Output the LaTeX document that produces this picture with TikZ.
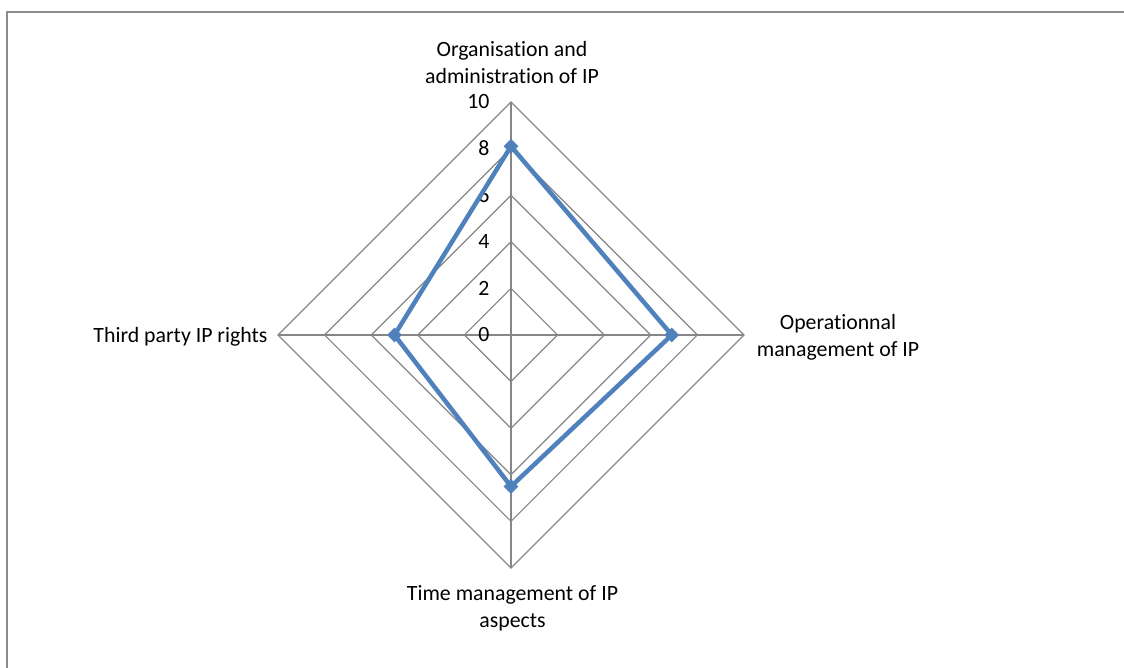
\documentclass[tikz,border=0pt]{standalone}
\usepackage{fontspec}
\setmainfont{Carlito}[Ligatures=NoCommon]
\usetikzlibrary{shapes.geometric}
\definecolor{gridgray}{HTML}{868686}
\definecolor{framegray}{HTML}{8C8C8C}
\definecolor{series}{HTML}{4F81BD}

\begin{document}
\begin{tikzpicture}[x=1pt,y=1pt,
    ring/.style={draw=gridgray,line width=1.2pt},
    seriesline/.style={draw=series,line width=4.5pt,line join=round},
    marker/.style={diamond,fill=series,inner sep=0pt,minimum size=15pt},
    axislabel/.style={align=center,font=\fontsize{21.8}{27}\selectfont},
    ticklabel/.style={anchor=east,font=\fontsize{21.8}{27}\selectfont}]
    \useasboundingbox (-511,-333) rectangle (613,335);
    \draw [framegray,line width=2pt] (-504,323) rectangle (640,-360);
    \foreach \r in {2,4,...,10}
      \draw [ring] (0,23.3*\r) -- (23.3*\r,0) -- (0,-23.3*\r) -- (-23.3*\r,0) -- cycle;
    \coordinate (axisTop) at (0,233);
    \coordinate (axisRight) at (233,0);
    \coordinate (axisBottom) at (0,-233);
    \coordinate (axisLeft) at (-233,0);
    \draw [ring] (axisTop) -- (axisBottom);
    \draw [ring] (axisLeft) -- (axisRight);
    \foreach \r in {0,2,...,10}
      \node[ticklabel] (tick\r) at (-18,23.3*\r) {\r};
    \node[axislabel] (orgLabel) at (1,272) {Organisation and\\administration of IP};
    \node[axislabel] (opLabel) at (327,-2) {Operationnal\\management of IP};
    \node[axislabel] (timeLabel) at (1.5,-273) {Time management of IP\\aspects};
    \node[axislabel,anchor=east] (thirdLabel) at (-240,-2) {Third party IP rights};
    \coordinate (pOrg) at (0,23.3*8.1);
    \coordinate (pOp) at (23.3*6.9,0);
    \coordinate (pTime) at (0,-23.3*6.5);
    \coordinate (pThird) at (-23.3*5,0);
    \draw [seriesline] (pOrg) -- (pOp) -- (pTime) -- (pThird) -- cycle;
    \foreach \p in {pOrg,pOp,pTime,pThird}
      \node[marker] (m\p) at (\p) {};
  \end{tikzpicture}
\end{document}
